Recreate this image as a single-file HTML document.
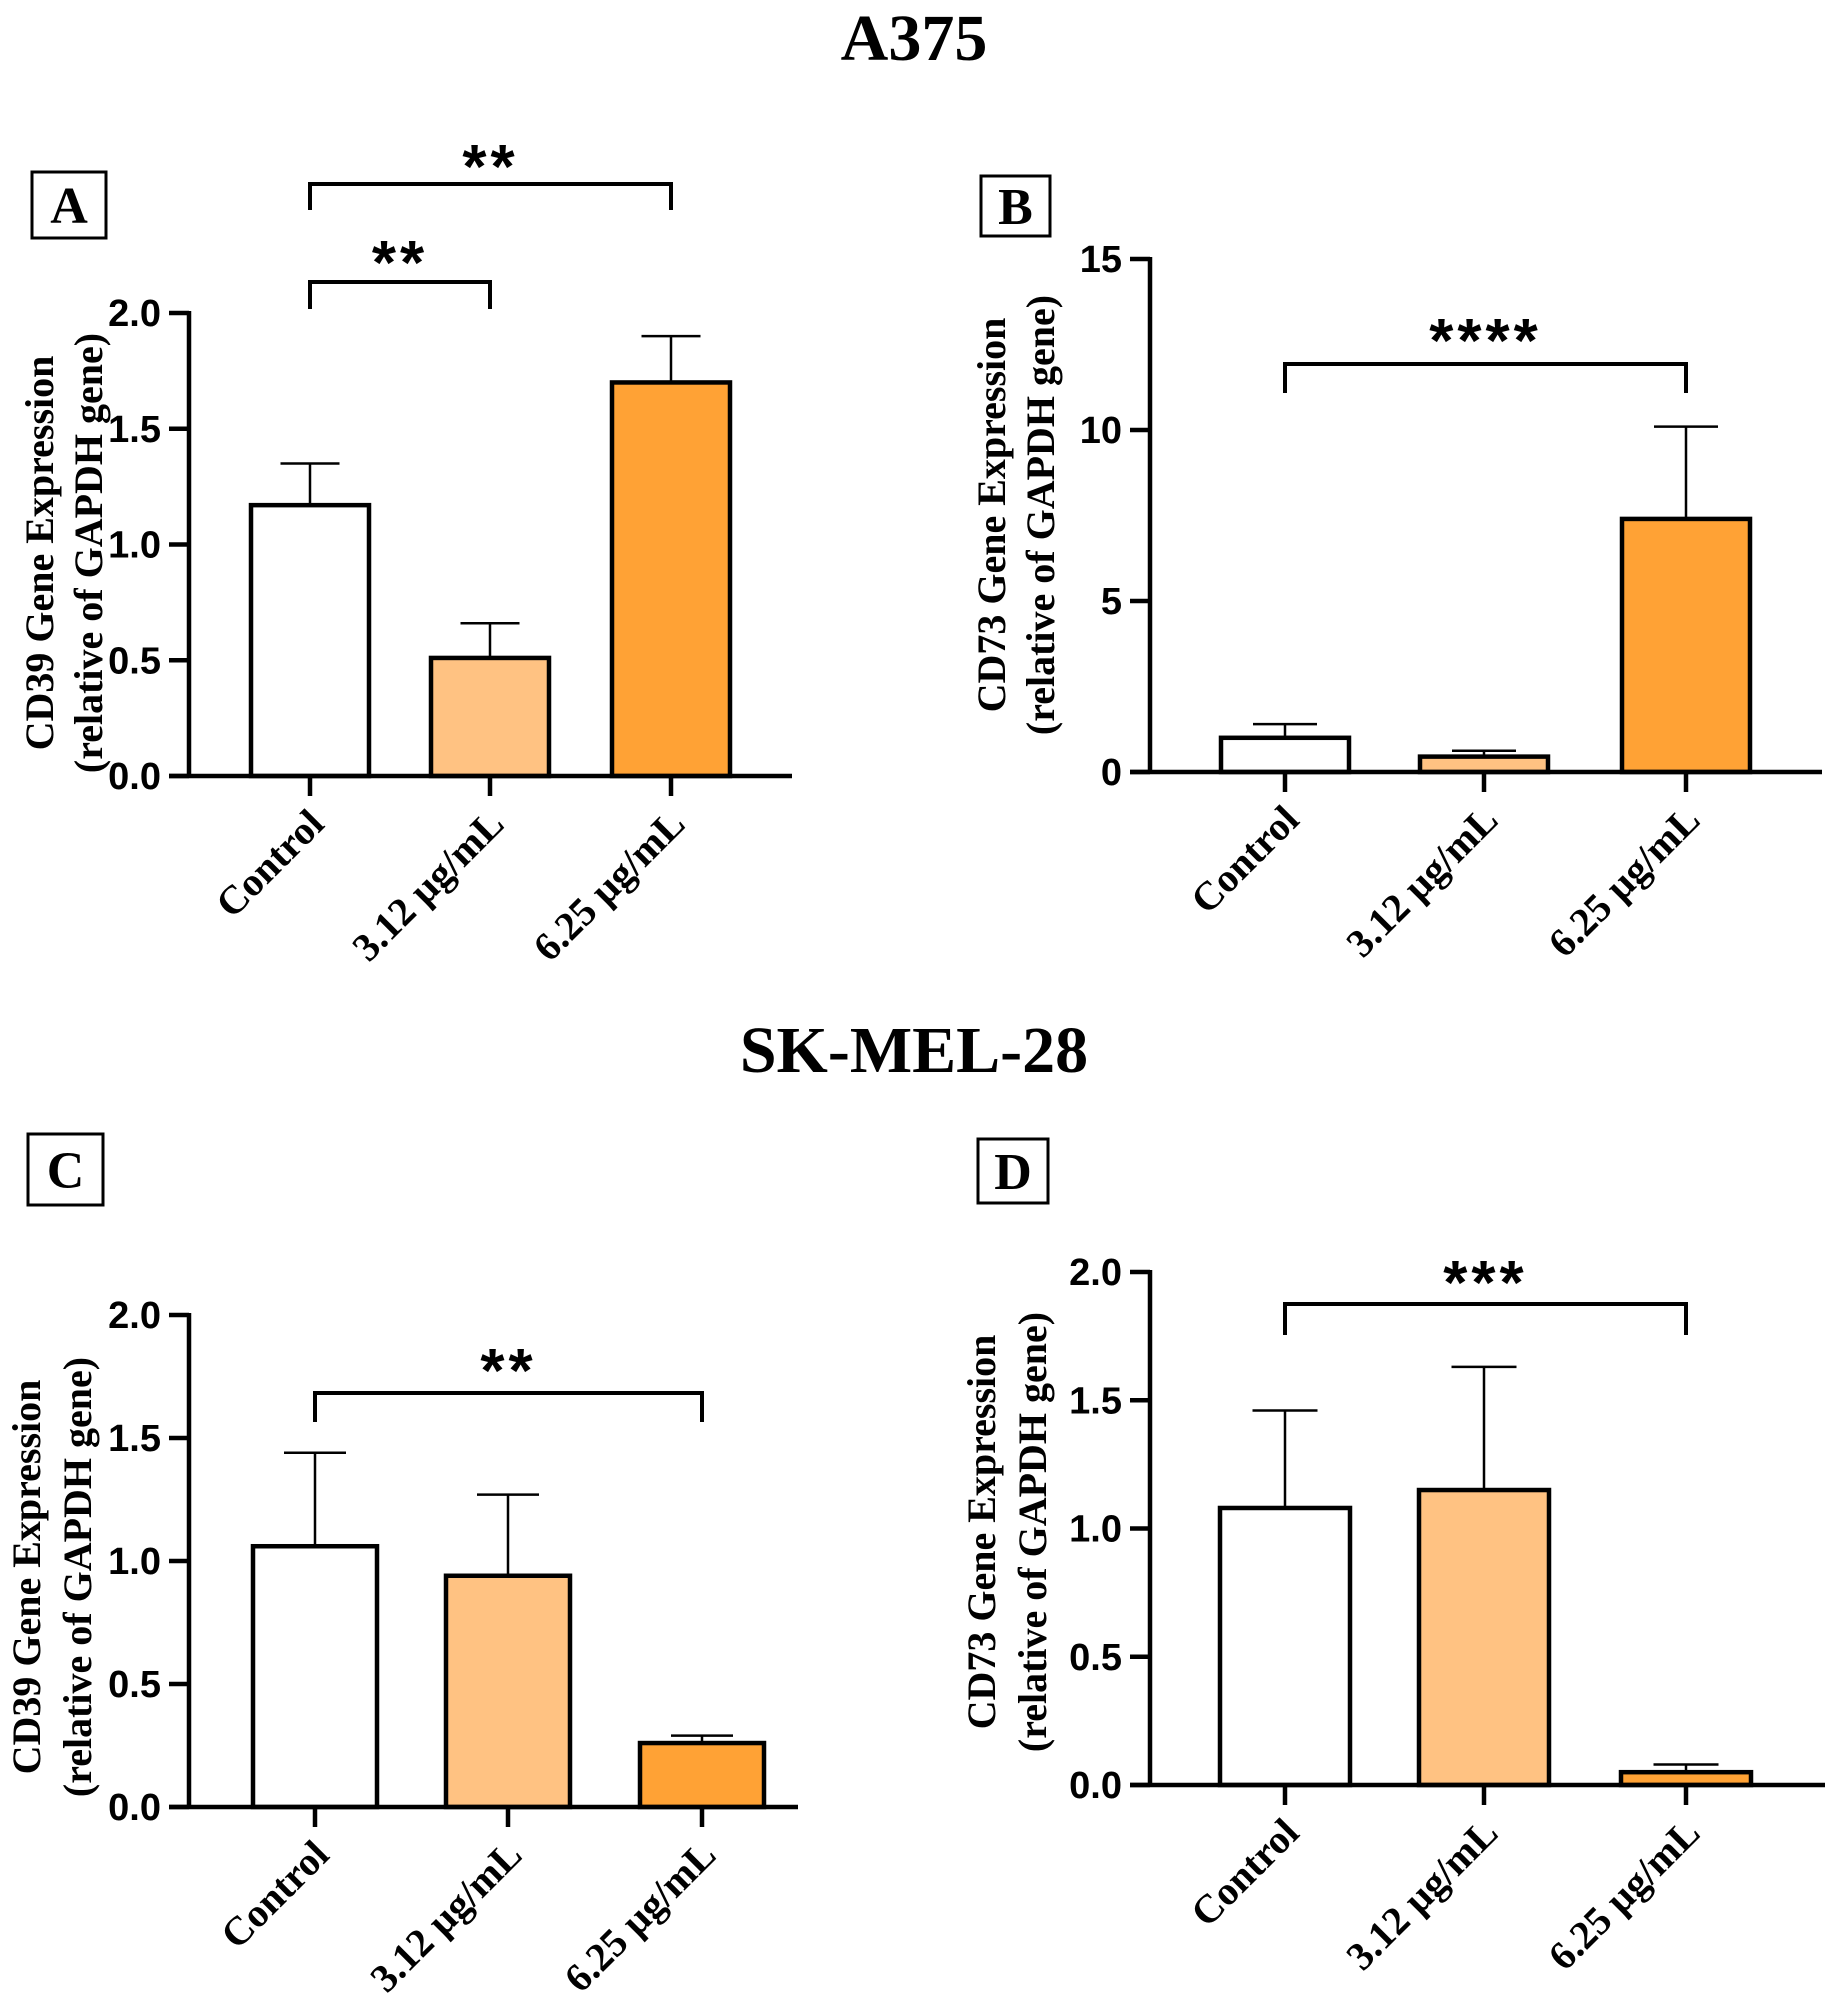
<!DOCTYPE html>
<html><head><meta charset="utf-8"><style>
html,body{margin:0;padding:0;background:#fff;}
svg{display:block;}
.serif{font-family:"Liberation Serif",serif;font-weight:bold;}
.sans{font-family:"Liberation Sans",sans-serif;font-weight:bold;}
</style></head><body>
<svg id="fig" width="1828" height="2008" viewBox="0 0 1828 2008" xmlns="http://www.w3.org/2000/svg">
<text x="914" y="60" text-anchor="middle" class="serif" font-size="66">A375</text>
<text x="914" y="1072" text-anchor="middle" class="serif" font-size="66">SK-MEL-28</text>
</svg>
<script>
const categories = ["Control", "3.12 µg/mL", "6.25 µg/mL"];
const valuesA = [1.17, 0.51, 1.70];
const errorsA = [1.35, 0.66, 1.90];
const valuesB = [1.0, 0.45, 7.4];
const errorsB = [1.4, 0.62, 10.1];
const valuesC = [1.06, 0.94, 0.26];
const errorsC = [1.44, 1.27, 0.29];
const valuesD = [1.08, 1.15, 0.05];
const errorsD = [1.46, 1.63, 0.08];
const ticksA = [0, 0.5, 1.0, 1.5, 2.0];
const ticksB = [0, 5, 10, 15];
const ticksC = [0, 0.5, 1.0, 1.5, 2.0];
const ticksD = [0, 0.5, 1.0, 1.5, 2.0];
const tickLabelsA = ["0.0", "0.5", "1.0", "1.5", "2.0"];
const tickLabelsB = ["0", "5", "10", "15"];
const tickLabelsC = ["0.0", "0.5", "1.0", "1.5", "2.0"];
const tickLabelsD = ["0.0", "0.5", "1.0", "1.5", "2.0"];
const fills = ["#ffffff", "#ffc282", "#ffa235"];

const svg = document.getElementById('fig');
const NS = 'http://www.w3.org/2000/svg';
function mk(tag, attrs, parent) {
  const e = document.createElementNS(NS, tag);
  for (const k in attrs) e.setAttribute(k, attrs[k]);
  (parent || svg).appendChild(e);
  return e;
}

const panels = [
  {id:'a', letter:'A', values:valuesA, errors:errorsA, ticks:ticksA, labels:tickLabelsA, ymax:2.0,
   ax:189, y0:776, ytop:313, xs:[310,490,671], xend:792, bw:118, box:[32,172,74,66],
   ylab:"CD39 Gene Expression", ylx:[39,88], lcy:553,
   brackets:[{from:0,to:2,y:184,drop:26,text:"**",ty:156},{from:0,to:1,y:282,drop:27,text:"**",ty:252}]},
  {id:'b', letter:'B', values:valuesB, errors:errorsB, ticks:ticksB, labels:tickLabelsB, ymax:15,
   ax:1150, y0:772, ytop:259, xs:[1285,1484,1686], xend:1822, bw:128, box:[981,176,69,60],
   ylab:"CD73 Gene Expression", ylx:[991,1040], lcy:515,
   brackets:[{from:0,to:2,y:364,drop:29,text:"****",ty:330}]},
  {id:'c', letter:'C', values:valuesC, errors:errorsC, ticks:ticksC, labels:tickLabelsC, ymax:2.0,
   ax:189, y0:1807, ytop:1315, xs:[315,508,702], xend:798, bw:124, box:[28,1134,75,71],
   ylab:"CD39 Gene Expression", ylx:[26,77], lcy:1577,
   brackets:[{from:0,to:2,y:1393,drop:29,text:"**",ty:1360}]},
  {id:'d', letter:'D', values:valuesD, errors:errorsD, ticks:ticksD, labels:tickLabelsD, ymax:2.0,
   ax:1150, y0:1785, ytop:1272, xs:[1285,1484,1686], xend:1825, bw:130, box:[978,1139,70,64],
   ylab:"CD73 Gene Expression", ylx:[981,1032], lcy:1532,
   brackets:[{from:0,to:2,y:1304,drop:31,text:"***",ty:1272}]}
];

panels.forEach(p => {
  const g = mk('g', {});
  
  
  const yScale = v => p.y0 - (v / p.ymax) * (p.y0 - p.ytop);
  const bx = mk('rect', {x:p.box[0], y:p.box[1], width:p.box[2], height:p.box[3], fill:'none', stroke:'#000', 'stroke-width':3}, g);
  
  
  const bt = mk('text', {x:p.box[0]+p.box[2]/2, y:p.box[1]+p.box[3]/2+18, 'text-anchor':'middle', class:'serif', 'font-size':52}, g);
  bt.textContent = p.letter;
  
  
  p.values.forEach((v, i) => {
    const top = yScale(v);
    const r = mk('rect', {x:p.xs[i]-p.bw/2, y:top, width:p.bw, height:p.y0-top, fill:fills[i], stroke:'#000', 'stroke-width':4.5}, g);
    
    
    const et = yScale(p.errors[i]);
    const e1 = mk('line', {x1:p.xs[i], x2:p.xs[i], y1:top, y2:et, stroke:'#000', 'stroke-width':2.5}, g);
    
    
    const e2 = mk('line', {x1:p.xs[i]-p.bw*0.25, x2:p.xs[i]+p.bw*0.25, y1:et, y2:et, stroke:'#000', 'stroke-width':2.5}, g);
    
    
  });
  const ya = mk('line', {x1:p.ax, x2:p.ax, y1:p.ytop-2, y2:p.y0+2, stroke:'#000', 'stroke-width':4.5}, g);
  
  
  const xa = mk('line', {x1:p.ax-20, x2:p.xend, y1:p.y0, y2:p.y0, stroke:'#000', 'stroke-width':4.5}, g);
  
  
  p.ticks.forEach((t, i) => {
    const y = yScale(t);
    const tl = mk('line', {x1:p.ax-20, x2:p.ax, y1:y, y2:y, stroke:'#000', 'stroke-width':4.5}, g);
    
    
    const tx = mk('text', {x:p.ax-28, y:y+13, 'text-anchor':'end', class:'sans', 'font-size':38}, g);
    tx.textContent = p.labels[i];
    
    
  });
  categories.forEach((c, i) => {
    const x = p.xs[i];
    const tl = mk('line', {x1:x, x2:x, y1:p.y0, y2:p.y0+20, stroke:'#000', 'stroke-width':4.5}, g);
    
    
    const tx = mk('text', {x:0, y:0, 'text-anchor':'end', class:'serif', 'font-size':40,
      transform:'translate(' + (x+16) + ',' + (p.y0+50) + ') rotate(-45)'}, g);
    tx.textContent = c;
    
    
  });
  const l1 = mk('text', {x:0, y:0, 'text-anchor':'middle', class:'serif', 'font-size':40,
    transform:'translate(' + (p.ylx[0]+14) + ',' + p.lcy + ') rotate(-90)'}, g);
  l1.textContent = p.ylab;
  
  
  const l2 = mk('text', {x:0, y:0, 'text-anchor':'middle', class:'serif', 'font-size':40,
    transform:'translate(' + (p.ylx[1]+14) + ',' + p.lcy + ') rotate(-90)'}, g);
  l2.textContent = "(relative of GAPDH gene)";
  
  
  p.brackets.forEach(b => {
    const x1 = p.xs[b.from], x2 = p.xs[b.to];
    const pl = mk('polyline', {points: x1+','+(b.y+b.drop)+' '+x1+','+b.y+' '+x2+','+b.y+' '+x2+','+(b.y+b.drop),
      fill:'none', stroke:'#000', 'stroke-width':4}, g);
    
    
    const st = mk('text', {x:(x1+x2)/2, y:b.ty+32, 'text-anchor':'middle', class:'sans', 'font-size':62, 'letter-spacing':4}, g);
    st.textContent = b.text;
    
    
  });
});
</script>
</body></html>
